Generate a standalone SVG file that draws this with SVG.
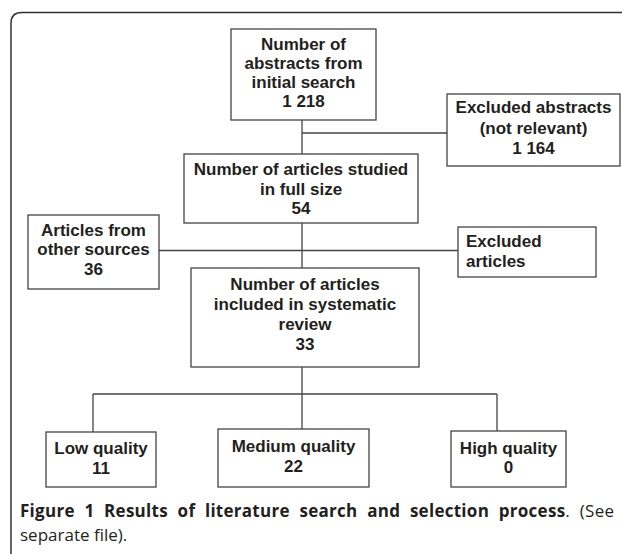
<svg xmlns="http://www.w3.org/2000/svg" width="622" height="554" viewBox="0 0 622 554">
<style>
.box{fill:#fff;stroke:#444;stroke-width:1.3}
.t{font-family:"Liberation Sans",Arial,sans-serif;font-weight:bold;font-size:17px;fill:#231f20;text-anchor:middle}
.tl{text-anchor:start}
.c line{stroke:#444;stroke-width:1.3}
.cap{font-family:"Open Sans","DejaVu Sans",sans-serif;font-size:17px;fill:#231f20}
</style>
<rect width="622" height="554" fill="#fff"/>
<path d="M11,554 V23 Q11,12.5 22,12.5 H622" fill="none" stroke="#333" stroke-width="1.5"/>
<g id="connectors" class="c">
<line x1="302" y1="120" x2="302" y2="154"/>
<line x1="302" y1="133" x2="447" y2="133"/>
<line x1="302" y1="223" x2="302" y2="268"/>
<line x1="159" y1="250.5" x2="458" y2="250.5"/>
<line x1="302" y1="367" x2="302" y2="429"/>
<line x1="93" y1="394" x2="497" y2="394"/>
<line x1="93" y1="394" x2="93" y2="432"/>
<line x1="497" y1="394" x2="497" y2="431"/>
</g>
<g id="n-initial">
<rect class="box" x="231" y="29" width="145" height="91"/>
<text class="t" x="303.5" y="50">Number of</text>
<text class="t" x="303.5" y="69">abstracts from</text>
<text class="t" x="303.5" y="88">initial search</text>
<text class="t" x="303.5" y="107">1 218</text>
</g>
<g id="n-excl-abstracts">
<rect class="box" x="447" y="94" width="173" height="72"/>
<text class="t" x="533.5" y="113">Excluded abstracts</text>
<text class="t" x="533.5" y="133.5">(not relevant)</text>
<text class="t" x="533.5" y="154">1 164</text>
</g>
<g id="n-fullsize">
<rect class="box" x="184" y="154" width="234" height="69"/>
<text class="t" x="301" y="175">Number of articles studied</text>
<text class="t" x="301" y="194.5">in full size</text>
<text class="t" x="301" y="214">54</text>
</g>
<g id="n-other">
<rect class="box" x="28" y="215" width="131" height="74"/>
<text class="t" x="93.5" y="235.5">Articles from</text>
<text class="t" x="93.5" y="255">other sources</text>
<text class="t" x="93.5" y="275">36</text>
</g>
<g id="n-excl-articles">
<rect class="box" x="458" y="227" width="138" height="50"/>
<text class="t tl" x="466" y="246.5">Excluded</text>
<text class="t tl" x="466" y="266.5">articles</text>
</g>
<g id="n-included">
<rect class="box" x="191" y="268" width="228" height="99"/>
<text class="t" x="305" y="290">Number of articles</text>
<text class="t" x="305" y="310">included in systematic</text>
<text class="t" x="305" y="330">review</text>
<text class="t" x="305" y="350">33</text>
</g>
<g id="n-low">
<rect class="box" x="46" y="432" width="110" height="55"/>
<text class="t" x="101" y="454">Low quality</text>
<text class="t" x="101" y="474">11</text>
</g>
<g id="n-medium">
<rect class="box" x="218" y="429" width="151" height="58"/>
<text class="t" x="293.5" y="452">Medium quality</text>
<text class="t" x="293.5" y="472">22</text>
</g>
<g id="n-high">
<rect class="box" x="451" y="431" width="115" height="56"/>
<text class="t" x="508.5" y="454">High quality</text>
<text class="t" x="508.5" y="473">0</text>
</g>
<text class="cap" x="20" y="517" word-spacing="5" textLength="594" lengthAdjust="spacing"><tspan font-weight="bold">Figure 1 Results of literature search and selection process</tspan>. (See</text>
<text class="cap" x="20" y="541">separate file).</text>
</svg>
